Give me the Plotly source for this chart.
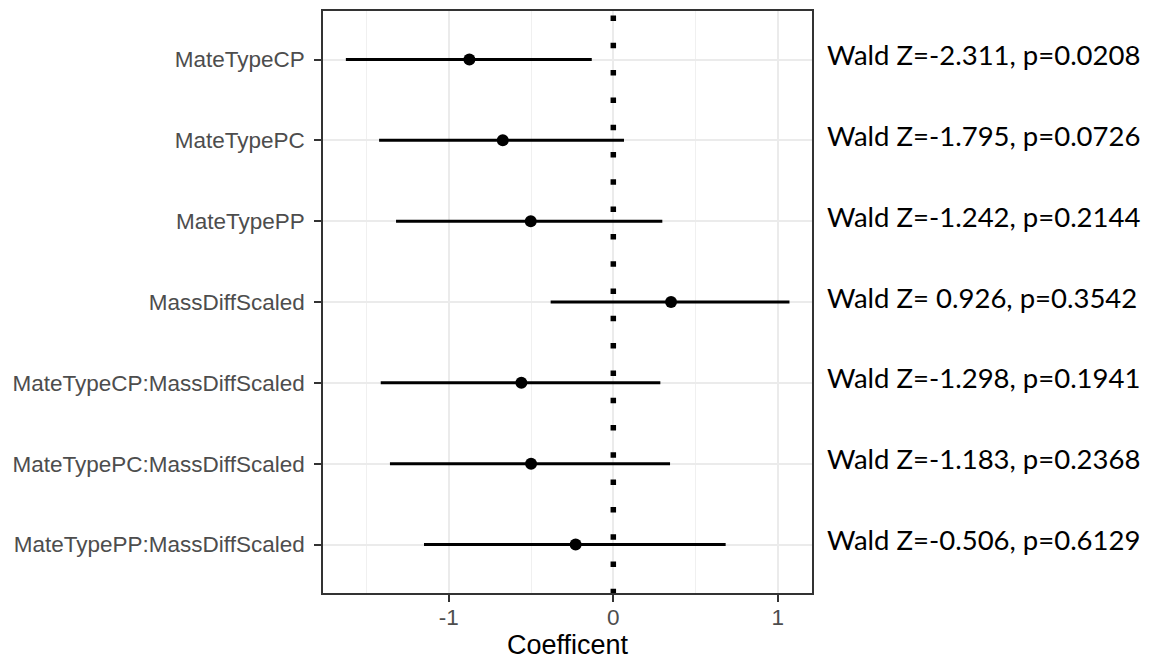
import plotly.graph_objects as go

terms = ["MateTypeCP", "MateTypePC", "MateTypePP", "MassDiffScaled",
         "MateTypeCP:MassDiffScaled", "MateTypePC:MassDiffScaled",
         "MateTypePP:MassDiffScaled"]
coef = [-0.875, -0.672, -0.502, 0.351, -0.559, -0.500, -0.229]
lower = [-1.626, -1.424, -1.321, -0.381, -1.414, -1.358, -1.151]
upper = [-0.131, 0.065, 0.298, 1.071, 0.286, 0.345, 0.683]
wald_z = [-2.311, -1.795, -1.242, 0.926, -1.298, -1.183, -0.506]
p_vals = [0.0208, 0.0726, 0.2144, 0.3542, 0.1941, 0.2368, 0.6129]
x_ticks = [-1, 0, 1]
x_minor = [-1.5, -0.5, 0.5]

seg_x, seg_y = [], []
for t, lo, hi in zip(terms, lower, upper):
    seg_x += [lo, hi, None]
    seg_y += [t, t, None]

fig = go.Figure()
fig.add_trace(go.Scatter(x=seg_x, y=seg_y, mode="lines",
                         line=dict(color="black", width=3),
                         showlegend=False, hoverinfo="skip"))
fig.add_trace(go.Scatter(x=coef, y=terms, mode="markers",
                         marker=dict(color="black", size=12),
                         showlegend=False))

fig.add_shape(type="line", x0=0, x1=0, xref="x", y0=1, y1=0, yref="paper",
              line=dict(color="black", width=5.5, dash="0px,4.5px,5.5px,17.3px"))

for t, z, p in zip(terms, wald_z, p_vals):
    fig.add_annotation(x=1, xref="paper", xanchor="left", xshift=13,
                       y=t, yref="y", yanchor="middle", yshift=5, showarrow=False,
                       text=f"Wald Z={z:6.3f}, p={p:.4f}".replace(" ", "&nbsp;"),
                       font=dict(family="Lato", size=27.5, color="black"))

fig.add_annotation(x=0.5, xref="paper", y=0, yref="paper", yshift=-52,
                   xanchor="center", yanchor="middle", showarrow=False,
                   text="Coefficent", font=dict(size=27, color="black"))

# page body has an 8px margin, so the figure is drawn 8px smaller
fig.update_layout(
    width=1151, height=652,
    margin=dict(l=315, r=347, t=3, b=67, autoexpand=False),
    paper_bgcolor="white", plot_bgcolor="white",
    font=dict(family="Liberation Sans, Arial", size=22.5, color="#4D4D4D"),
)
fig.update_xaxes(
    automargin=False,
    range=[-1.765, 1.208], tickvals=x_ticks, ticktext=[str(v) for v in x_ticks],
    showgrid=True, gridcolor="#EBEBEB", gridwidth=1.5, zeroline=False,
    minor=dict(tickvals=x_minor, showgrid=True, gridcolor="#F0F0F0", gridwidth=1.2, ticks=""),
    showline=True, linecolor="#333333", linewidth=1.5, mirror=True,
    ticks="outside", ticklen=7, tickwidth=1.5, tickcolor="#333333",
    tickfont=dict(size=22.5, color="#4D4D4D"), ticklabelstandoff=-4,
)
fig.update_yaxes(
    automargin=False,
    type="category", categoryorder="array", categoryarray=terms,
    range=[6.6, -0.6],
    showgrid=True, gridcolor="#EBEBEB", gridwidth=1.5, zeroline=False,
    showline=True, linecolor="#333333", linewidth=1.5, mirror=True,
    ticks="outside", ticklen=7, tickwidth=1.5, tickcolor="#333333",
    tickfont=dict(size=22.5, color="#4D4D4D"), ticklabelstandoff=5,
)

fig.write_html("out.html")
